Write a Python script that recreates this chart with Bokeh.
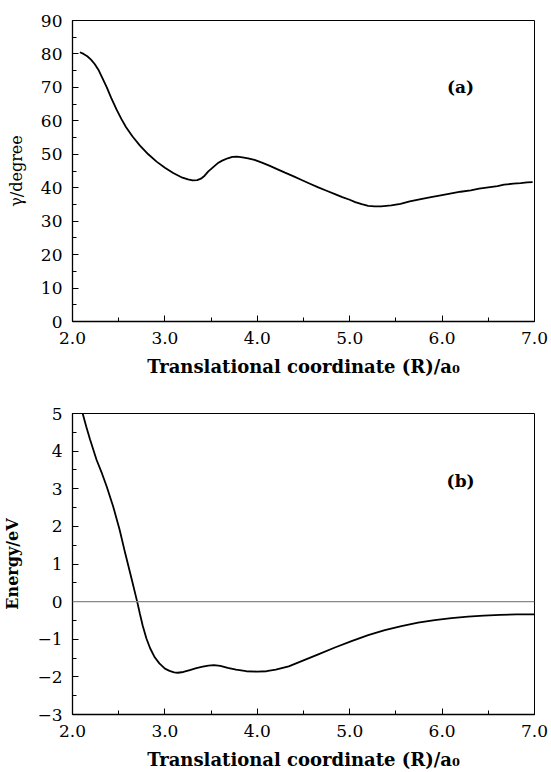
from bokeh.plotting import figure
from bokeh.layouts import column
from bokeh.models import Range1d, SingleIntervalTicker, Label, Span, NumeralTickFormatter
from bokeh.embed import file_html
from bokeh.resources import INLINE

# ---- data ----
r_gamma = [2.08, 2.12, 2.16, 2.20, 2.24, 2.28, 2.32, 2.37, 2.42, 2.48, 2.53, 2.58, 2.65,
           2.73, 2.82, 2.91, 3.00, 3.09, 3.19, 3.25, 3.30, 3.35, 3.39, 3.43, 3.47, 3.52,
           3.57, 3.62, 3.68, 3.73, 3.78, 3.84, 3.90, 3.97, 4.05, 4.13, 4.22, 4.30, 4.40,
           4.48, 4.57, 4.66, 4.75, 4.84, 4.92, 5.00, 5.06, 5.13, 5.20, 5.27, 5.34, 5.45,
           5.55, 5.65, 5.77, 5.88, 6.00, 6.10, 6.20, 6.31, 6.40, 6.50, 6.60, 6.67, 6.77,
           6.85, 6.92, 6.98]
gamma = [80.5, 80.0, 79.3, 78.3, 77.0, 75.3, 73.0, 70.1, 66.8, 63.2, 60.5, 58.1, 55.3,
         52.6, 50.0, 47.8, 46.0, 44.4, 43.0, 42.5, 42.2, 42.3, 42.7, 43.6, 44.9, 46.1,
         47.3, 48.1, 48.8, 49.2, 49.3, 49.1, 48.8, 48.3, 47.5, 46.6, 45.5, 44.5, 43.3,
         42.3, 41.2, 40.1, 39.1, 38.1, 37.2, 36.4, 35.7, 35.1, 34.6, 34.4, 34.4, 34.7,
         35.2, 35.9, 36.6, 37.2, 37.8, 38.3, 38.8, 39.2, 39.7, 40.1, 40.5, 40.9, 41.2,
         41.4, 41.6, 41.7]

r_energy = [2.11, 2.15, 2.19, 2.26, 2.32, 2.37, 2.44, 2.51, 2.57, 2.64, 2.70, 2.73, 2.76,
            2.80, 2.84, 2.89, 2.94, 3.00, 3.05, 3.10, 3.14, 3.20, 3.27, 3.34, 3.41, 3.47,
            3.53, 3.60, 3.68, 3.77, 3.88, 4.00, 4.10, 4.20, 4.34, 4.48, 4.66, 4.84, 5.02,
            5.20, 5.38, 5.56, 5.74, 5.92, 6.10, 6.28, 6.45, 6.63, 6.81, 7.00]
energy = [5.0, 4.64, 4.31, 3.77, 3.40, 3.06, 2.53, 1.91, 1.29, 0.60, 0.0, -0.33, -0.64,
          -0.98, -1.24, -1.48, -1.64, -1.78, -1.84, -1.88, -1.89, -1.87, -1.82, -1.77, -1.73, -1.70,
          -1.69, -1.71, -1.76, -1.81, -1.85, -1.86, -1.85, -1.81, -1.72, -1.58, -1.40, -1.22, -1.05,
          -0.89, -0.76, -0.65, -0.56, -0.49, -0.44, -0.40, -0.37, -0.35, -0.34, -0.34]

x_label = "Translational coordinate (R)/a\u2080"
y_label_a = "\u03b3/degree"
y_label_b = "Energy/eV"
panel_a = "(a)"
panel_b = "(b)"

SERIF = "DejaVu Serif"


def style(p, ylabel, ylabel_bold):
    p.outline_line_color = "black"
    p.outline_line_width = 1
    p.xgrid.visible = False
    p.ygrid.visible = False
    for ax in (p.xaxis[0], p.yaxis[0]):
        ax.axis_line_color = "black"
        ax.axis_line_width = 1.3
        ax.major_tick_in = 6
        ax.major_tick_out = 0
        ax.minor_tick_in = 4
        ax.minor_tick_out = 0
        ax.major_tick_line_color = "black"
        ax.minor_tick_line_color = "black"
        ax.major_label_text_font = SERIF
        ax.major_label_text_font_size = "17px"
        ax.major_label_text_color = "black"
        ax.axis_label_text_color = "black"
        ax.axis_label_text_font = SERIF
        ax.axis_label_text_font_style = "normal"
    xa = p.xaxis[0]
    xa.ticker = SingleIntervalTicker(interval=1, num_minor_ticks=2)
    xa.formatter = NumeralTickFormatter(format="0.0")
    xa.axis_label = x_label
    xa.axis_label_text_font_style = "bold"
    xa.axis_label_text_font_size = "18px"
    xa.major_label_standoff = 10
    xa.axis_label_standoff = 9
    ya = p.yaxis[0]
    ya.axis_label = ylabel
    ya.axis_label_text_font_size = "16px"
    ya.axis_label_text_font_style = "bold" if ylabel_bold else "normal"
    ya.major_label_standoff = 10
    ya.axis_label_standoff = 12


W = 551
pa = figure(width=W, height=380, x_range=Range1d(2.0, 7.0), y_range=Range1d(0, 90),
            output_backend="svg", toolbar_location=None,
            min_border_left=69, min_border_right=17, min_border_top=20, min_border_bottom=59)
style(pa, y_label_a, False)
pa.yaxis[0].ticker = SingleIntervalTicker(interval=10, num_minor_ticks=2)
pa.line(r_gamma, gamma, line_color="black", line_width=1.8)
pa.add_layout(Label(x=6.2, y=70, text=panel_a, text_align="center", text_baseline="middle",
                    text_font=SERIF, text_font_style="bold", text_font_size="17px",
                    text_color="black"))

pb = figure(width=W, height=392, x_range=Range1d(2.0, 7.0), y_range=Range1d(-3, 5),
            output_backend="svg", toolbar_location=None,
            min_border_left=69, min_border_right=17, min_border_top=33, min_border_bottom=58)
style(pb, y_label_b, True)
pb.yaxis[0].ticker = SingleIntervalTicker(interval=1, num_minor_ticks=2)
pb.yaxis[0].major_label_overrides = {-1: "\u22121", -2: "\u22122", -3: "\u22123"}
pb.add_layout(Span(location=0, dimension="width", line_color="#888888", line_width=1.2))
pb.line(r_energy, energy, line_color="black", line_width=1.8)
pb.add_layout(Label(x=6.2, y=3.2, text=panel_b, text_align="center", text_baseline="middle",
                    text_font=SERIF, text_font_style="bold", text_font_size="17px",
                    text_color="black"))

layout = column(pa, pb, spacing=0)
open("out.html", "w").write(file_html(layout, INLINE))
